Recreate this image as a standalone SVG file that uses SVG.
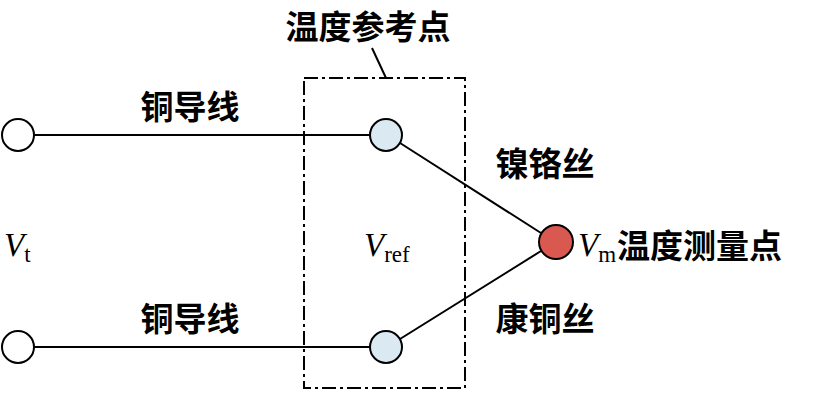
<svg xmlns="http://www.w3.org/2000/svg" width="837" height="401" viewBox="0 0 837 401">
<style>
.l{stroke:#000;stroke-width:2;fill:none}
.c{stroke:#000;stroke-width:2}
.t{font-family:"Noto Sans CJK SC",sans-serif;font-size:33px;font-weight:bold;fill:#000}
.v{font-family:"Liberation Serif",serif;font-size:33px;fill:#000}
.s{font-family:"Liberation Serif",serif;font-size:23px;font-style:normal}
</style>
<rect width="837" height="401" fill="#fff"/>
<g id="connectors">
<line class="l" x1="34" y1="135" x2="370" y2="135"/>
<line class="l" x1="34" y1="347" x2="370" y2="347"/>
<line class="l" x1="400" y1="143" x2="541" y2="233"/>
<line class="l" x1="400" y1="339" x2="541" y2="251"/>
<line class="l" x1="372" y1="48" x2="386" y2="78"/>
</g>
<g id="refbox"><rect x="304" y="78" width="161" height="310" class="l" stroke-dasharray="14,4,3,4"/></g>
<g id="t1"><circle cx="18" cy="135" r="16" fill="#fff" class="c"/></g>
<g id="t2"><circle cx="18" cy="347" r="16" fill="#fff" class="c"/></g>
<g id="r1"><circle cx="386" cy="135" r="16" fill="#dbe9f3" class="c"/></g>
<g id="r2"><circle cx="386" cy="347" r="16" fill="#dbe9f3" class="c"/></g>
<g id="m"><circle cx="556" cy="242" r="17" fill="#d9584f" class="c"/></g>
<g id="labels">
<text class="t" x="368" y="39" text-anchor="middle">温度参考点</text>
<text class="t" x="190" y="119" text-anchor="middle">铜导线</text>
<text class="t" x="190" y="331" text-anchor="middle">铜导线</text>
<text class="t" x="545" y="176" text-anchor="middle">镍铬丝</text>
<text class="t" x="545" y="331" text-anchor="middle">康铜丝</text>
<text class="v" x="4" y="256"><tspan font-style="italic">V</tspan><tspan class="s" dy="6">t</tspan></text>
<text class="v" x="364" y="256"><tspan font-style="italic">V</tspan><tspan class="s" dy="6">ref</tspan></text>
<text class="v" x="578" y="256"><tspan font-style="italic">V</tspan><tspan class="s" dy="6">m</tspan></text>
<text class="t" x="617" y="258">温度测量点</text>
</g>
</svg>
